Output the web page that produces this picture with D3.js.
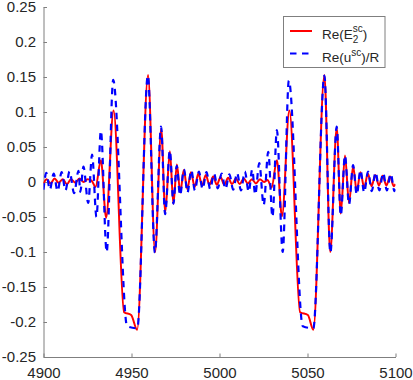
<!DOCTYPE html>
<html>
<head>
<meta charset="utf-8">
<script src="https://cdn.jsdelivr.net/npm/d3@7"></script>
<style>
  html, body { margin: 0; padding: 0; background: #fff; }
  svg text { font-family: "Liberation Sans", Arial, Helvetica, sans-serif; }
</style>
</head>
<body>
<script>
var w = 413;
var h = 380;

// tick values and labels
var xTicks = [4900, 4950, 5000, 5050, 5100];
var yTicks = [-0.25, -0.2, -0.15, -0.1, -0.05, 0, 0.05, 0.1, 0.15, 0.2, 0.25];
var yTickLabels = ["-0.25", "-0.2", "-0.15", "-0.1", "-0.05", "0", "0.05", "0.1", "0.15", "0.2", "0.25"];

// series names
var seriesNames = ["Re(E2sc)", "Re(usc)/R"];

// Re(E_2^sc) (x, value) at turning points
var redPts = [
  [4900, -0.002], [4901.8, 0.004], [4904, -0.002], [4906.3, 0.005], [4908.6, -0.001],
  [4911, 0.004], [4913.3, -0.003], [4915.6, 0.004], [4918, -0.001], [4920.4, 0.005],
  [4922.8, 0.000], [4925, 0.004], [4927.3, 0.002], [4929.6, -0.007], [4932.6, 0.031],
  [4935.6, -0.051], [4939.8, 0.102], [4945.8, -0.186], [4949.8, -0.19], [4953.2, -0.211],
  [4959.4, 0.153], [4963.4, -0.100], [4966.9, 0.076], [4969.2, -0.043], [4971.8, 0.044],
  [4973.8, -0.031], [4975.8, 0.025], [4977.7, -0.015], [4979.7, 0.017], [4981.7, -0.010],
  [4983.8, 0.014], [4985.9, -0.007], [4988, 0.012], [4990.1, -0.005], [4992.2, 0.010],
  [4994.3, -0.004], [4996.4, 0.008], [4998.5, -0.004], [5000.6, 0.007], [5002.7, -0.004],
  [5004.9, 0.006], [5007.1, -0.003], [5009.3, 0.005], [5011.5, -0.003], [5013.8, 0.005],
  [5016.1, -0.002], [5018.4, 0.004], [5020.7, -0.002], [5023, 0.004], [5025.3, 0.000],
  [5027.3, 0.003], [5029.6, -0.008], [5032.6, 0.031], [5035.5, -0.049], [5039.7, 0.102],
  [5045.8, -0.186], [5050.2, -0.19], [5053.3, -0.211], [5059.6, 0.153], [5062.9, -0.100],
  [5066.6, 0.077], [5068.9, -0.045], [5071.3, 0.038], [5073.6, -0.030], [5075.9, 0.022],
  [5078, -0.013], [5080.1, 0.014], [5082.2, -0.008], [5084.3, 0.012], [5086.4, -0.006],
  [5088.5, 0.010], [5090.6, -0.005], [5092.7, 0.009], [5094.8, -0.005], [5096.9, 0.008],
  [5099, -0.006], [5100, -0.003]
];

// Re(u^sc)/R
var bluePts = [
  [4900, -0.011], [4901.6, 0.013], [4903.6, -0.011], [4905.8, 0.012], [4908, -0.013],
  [4910.3, 0.014], [4912.5, -0.012], [4914.8, 0.015], [4917.4, -0.016], [4919.9, 0.016],
  [4920.9, -0.014], [4922.7, 0.022], [4925.4, -0.030], [4927.6, 0.039], [4930.1, -0.050],
  [4932.6, 0.073], [4935.9, -0.100], [4939.6, 0.146], [4947.5, -0.206], [4953.3, -0.209],
  [4959.3, 0.152], [4963.3, -0.101], [4966.8, 0.079], [4969.1, -0.046], [4971.8, 0.045],
  [4973.8, -0.031], [4975.7, 0.023], [4977.6, -0.019], [4979.8, 0.018], [4981.8, -0.015],
  [4984, 0.017], [4986, -0.012], [4988.3, 0.015], [4990.4, -0.010], [4992.6, 0.014],
  [4994.7, -0.010], [4996.9, 0.012], [4999, -0.009], [5001.2, 0.012], [5003.4, -0.010],
  [5005.6, 0.011], [5007.8, -0.011], [5010, 0.013], [5012.2, -0.012], [5014.4, 0.015],
  [5016.6, -0.014], [5018.6, 0.018], [5020.3, -0.018], [5022.6, 0.027], [5025.1, -0.033],
  [5027.7, 0.043], [5030.1, -0.050], [5032.6, 0.074], [5035.9, -0.100], [5039.4, 0.145],
  [5047.3, -0.206], [5053.3, -0.209], [5059.6, 0.152], [5063, -0.101], [5066.6, 0.079],
  [5068.9, -0.048], [5071.3, 0.038], [5073.6, -0.032], [5075.9, 0.024], [5078, -0.018],
  [5080.1, 0.017], [5082.2, -0.015], [5084.4, 0.015], [5086.5, -0.013], [5088.7, 0.014],
  [5090.8, -0.012], [5093, 0.013], [5095.1, -0.012], [5097.3, 0.012], [5099.4, -0.013],
  [5100, -0.010]
];

var x = d3.scaleLinear().domain([4900, 5100]).range([43.5, 395.5]);
var y = d3.scaleLinear().domain([-0.25, 0.25]).range([357, 7]);

var svg = d3.select("body")
            .append("svg")
            .attr("width", w)
            .attr("height", h);

svg.append("defs").append("clipPath")
   .attr("id", "plotclip")
   .append("rect")
   .attr("x", 43.5).attr("y", 7)
   .attr("width", 352).attr("height", 350);

//Axes
var axisColor = "#7f7f7f";
var textColor = "#262626";

var xAxis = d3.axisBottom(x)
              .tickValues(xTicks)
              .tickFormat(d3.format("d"))
              .tickSizeInner(-3.5)
              .tickSizeOuter(0)
              .tickPadding(10);

var yAxis = d3.axisLeft(y)
              .tickValues(yTicks)
              .tickFormat(function(d, i) { return yTickLabels[i]; })
              .tickSizeInner(-3.5)
              .tickSizeOuter(0)
              .tickPadding(7.5);

var gx = svg.append("g")
            .attr("transform", "translate(0,357)")
            .call(xAxis);

var gy = svg.append("g")
            .attr("transform", "translate(43.5,0)")
            .call(yAxis);

[gx, gy].forEach(function(g) {
  g.select(".domain").attr("stroke", axisColor).attr("stroke-width", 1);
  g.selectAll(".tick line").attr("stroke", axisColor).attr("stroke-width", 1);
  g.selectAll(".tick text")
   .attr("fill", textColor)
   .style("font-size", "15px")
   .style("font-family", "'Liberation Sans', Arial, Helvetica, sans-serif");
});

//Lines
var line = d3.line()
             .x(function(d) { return x(d[0]); })
             .y(function(d) { return y(d[1]); })
             .curve(d3.curveMonotoneX);

var plot = svg.append("g").attr("clip-path", "url(#plotclip)");

plot.append("path")
    .datum(redPts)
    .attr("d", line)
    .attr("fill", "none")
    .attr("stroke", "#ff0000")
    .attr("stroke-width", 2)
    .attr("stroke-linejoin", "round");

plot.append("path")
    .datum(bluePts)
    .attr("d", line)
    .attr("fill", "none")
    .attr("stroke", "#0000ff")
    .attr("stroke-width", 2.2)
    .attr("stroke-dasharray", "6.5,5.5");

//Legend
var legend = svg.append("g");

legend.append("rect")
      .attr("x", 283.5).attr("y", 16.5)
      .attr("width", 101.5).attr("height", 51)
      .attr("fill", "#fff")
      .attr("stroke", axisColor)
      .attr("stroke-width", 1);

legend.append("line")
      .attr("x1", 290).attr("x2", 312)
      .attr("y1", 31).attr("y2", 31)
      .attr("stroke", "#ff0000").attr("stroke-width", 2);

legend.append("line")
      .attr("x1", 290).attr("x2", 312)
      .attr("y1", 53.5).attr("y2", 53.5)
      .attr("stroke", "#0000ff").attr("stroke-width", 2.2)
      .attr("stroke-dasharray", "6.5,5.5");

// Re(E_2^sc)
var t1 = legend.append("text")
               .attr("x", 322).attr("y", 38.5)
               .attr("fill", textColor)
               .style("font-size", "13.5px");
t1.append("tspan").text("Re(E");
var sup1 = t1.append("tspan").style("font-size", "10px").attr("dy", -7).text("sc");
var supW = sup1.node().getComputedTextLength();
var sub1 = t1.append("tspan").style("font-size", "10px").attr("dx", -supW).attr("dy", 11).text("2");
var subW = sub1.node().getComputedTextLength();
t1.append("tspan").attr("dx", supW - subW).attr("dy", -4).text(")");

// Re(u^sc)/R
var t2 = legend.append("text")
               .attr("x", 322).attr("y", 61.5)
               .attr("fill", textColor)
               .style("font-size", "13.5px");
t2.append("tspan").text("Re(u");
t2.append("tspan").style("font-size", "10px").attr("dy", -6).text("sc");
t2.append("tspan").attr("dy", 6).text(")/R");
</script>
</body>
</html>
